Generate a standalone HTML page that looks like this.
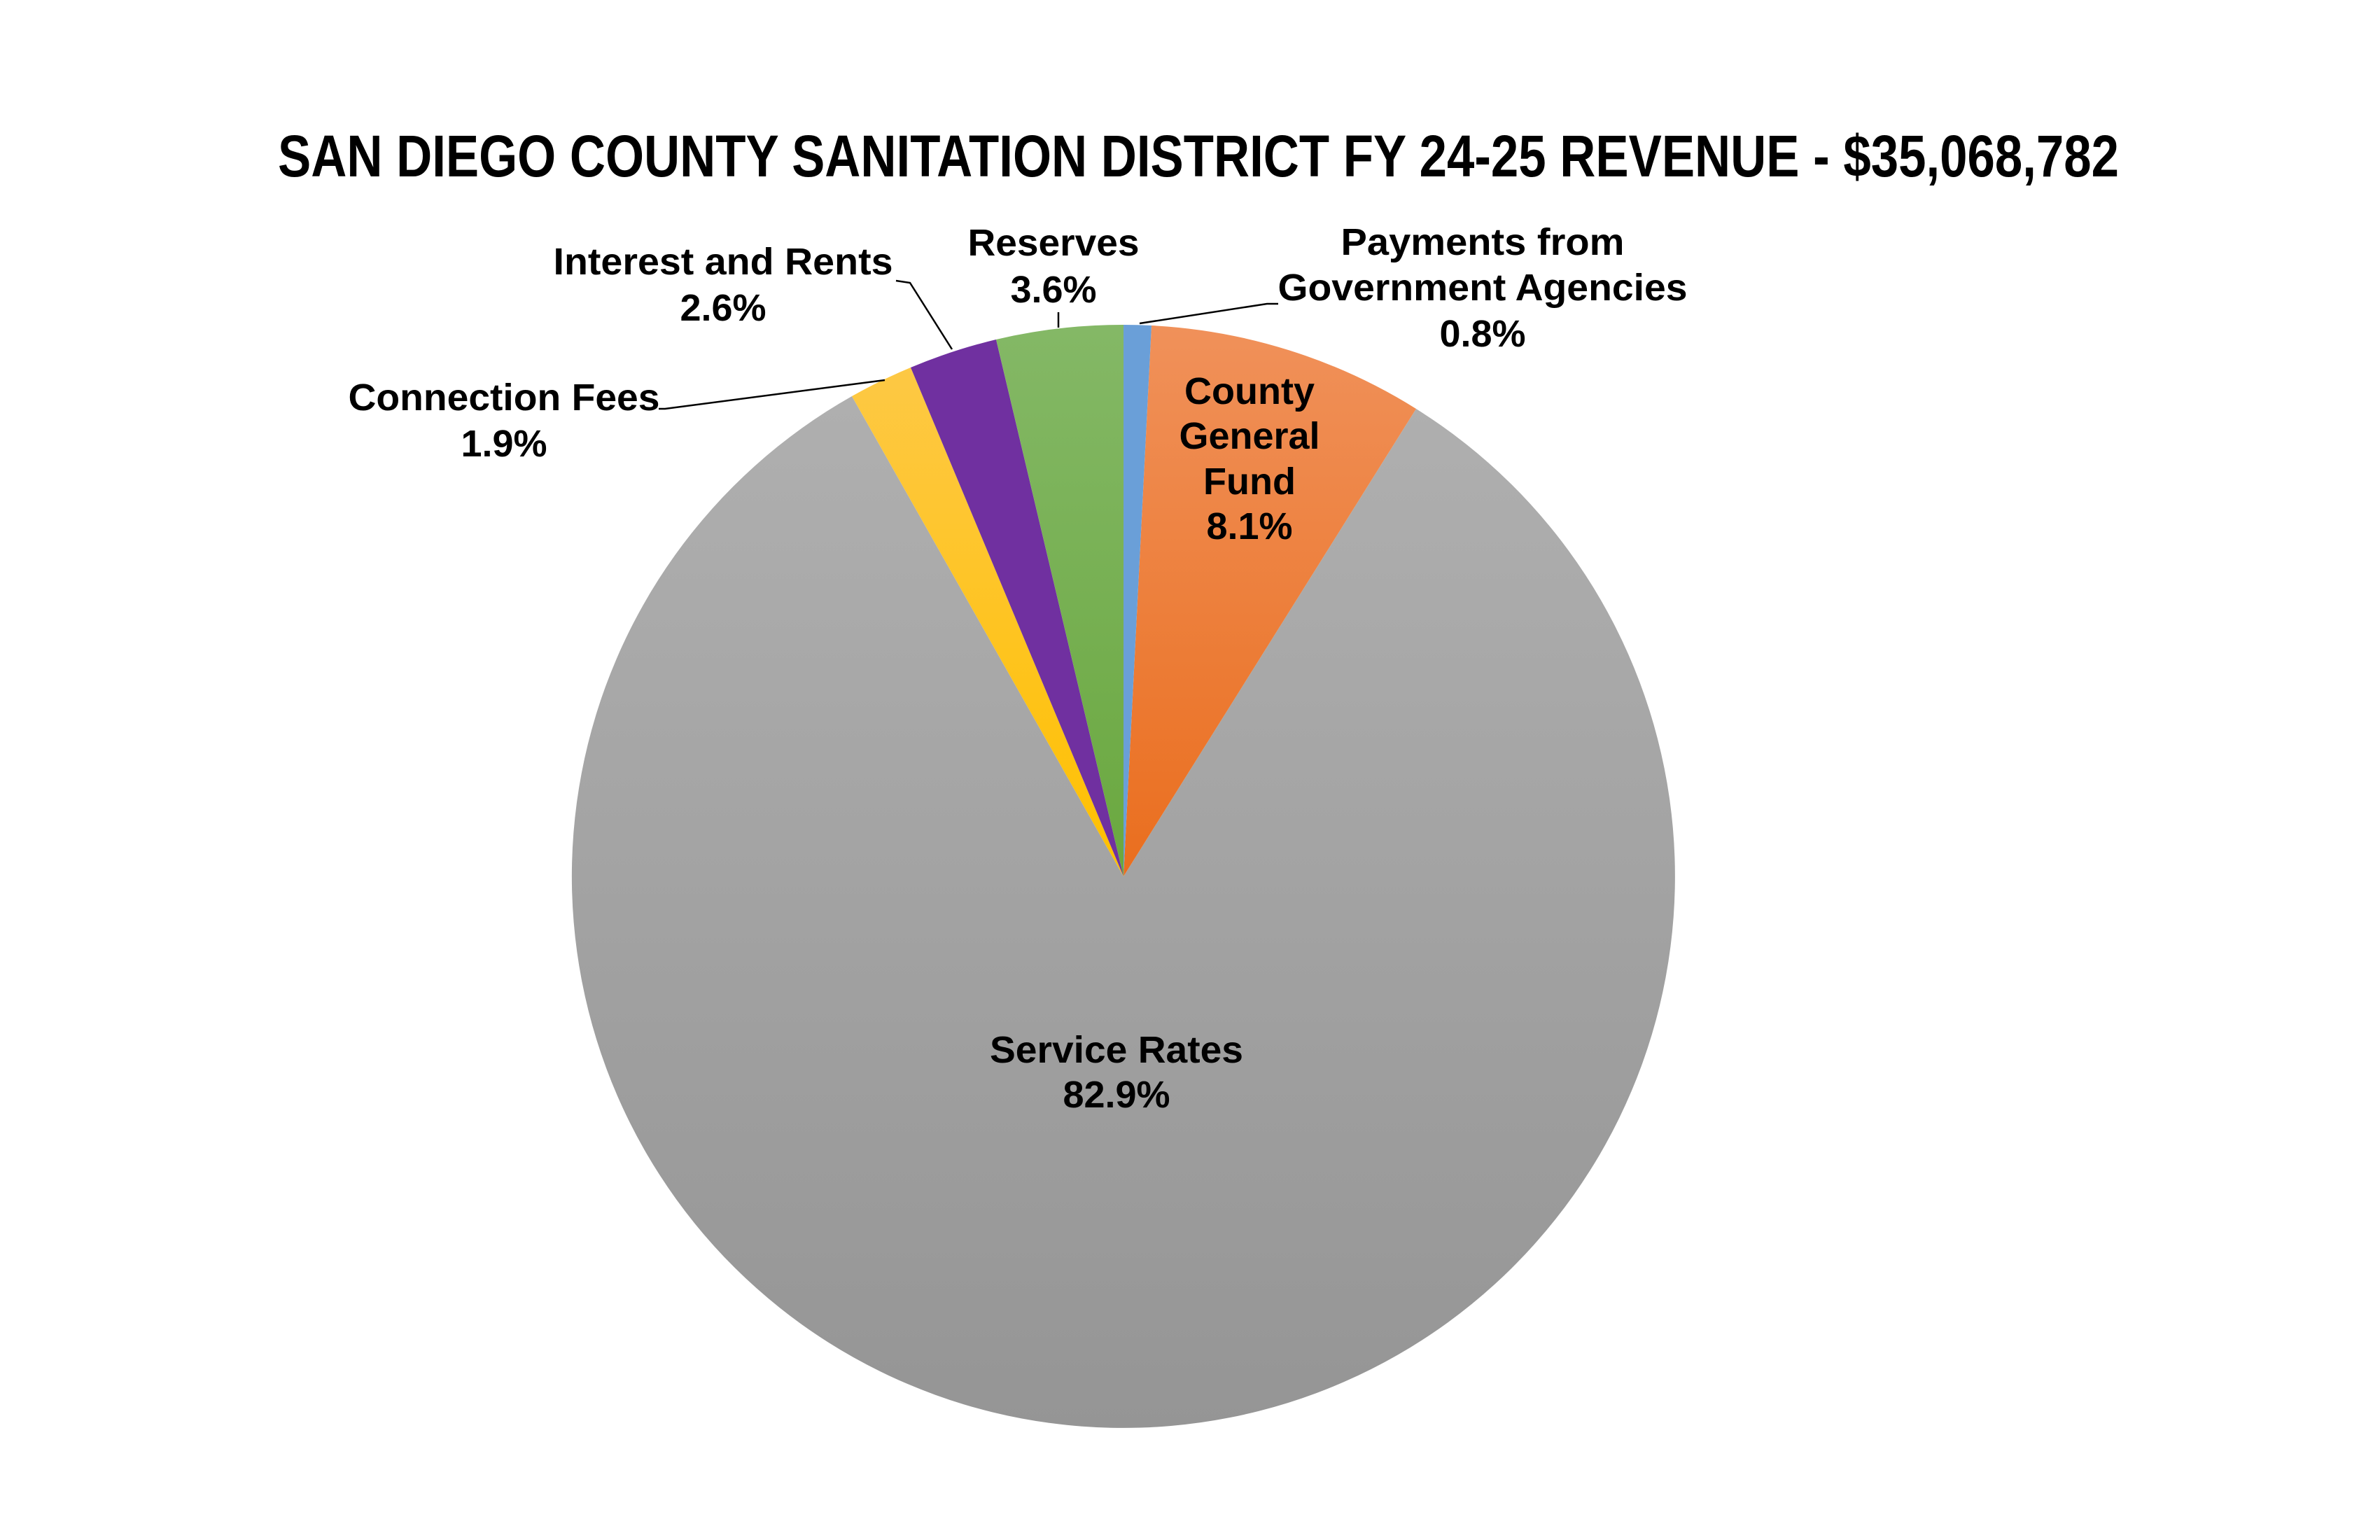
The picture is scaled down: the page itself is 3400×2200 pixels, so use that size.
<!DOCTYPE html>
<html><head><meta charset="utf-8"><style>
html,body{margin:0;padding:0;background:#fff;}
svg{display:block}
text{font-family:"Liberation Sans Narrow","Liberation Sans",Arial,sans-serif;font-weight:bold;fill:#000;}
</style></head><body>
<svg width="3400" height="2200" viewBox="0 0 3400 2200" xmlns="http://www.w3.org/2000/svg">
<defs>
<linearGradient id="gGray" gradientUnits="userSpaceOnUse" x1="0" y1="464" x2="0" y2="2040"><stop offset="0" stop-color="#b1b1b1"/><stop offset="1" stop-color="#959595"/></linearGradient>
<linearGradient id="gOr" gradientUnits="userSpaceOnUse" x1="0" y1="464" x2="0" y2="1252"><stop offset="0" stop-color="#f0915a"/><stop offset="1" stop-color="#ea6e1e"/></linearGradient>
<linearGradient id="gGr" gradientUnits="userSpaceOnUse" x1="0" y1="464" x2="0" y2="1252"><stop offset="0" stop-color="#84b866"/><stop offset="1" stop-color="#6aa83f"/></linearGradient>
<linearGradient id="gYe" gradientUnits="userSpaceOnUse" x1="0" y1="464" x2="0" y2="1252"><stop offset="0" stop-color="#fdc94a"/><stop offset="1" stop-color="#ffc000"/></linearGradient>
</defs>
<rect width="3400" height="2200" fill="#fff"/>
<text x="1712" y="252" font-size="84" text-anchor="middle" textLength="2630" lengthAdjust="spacingAndGlyphs">SAN DIEGO COUNTY SANITATION DISTRICT FY 24-25 REVENUE - $35,068,782</text>
<path d="M1605,1252 L2023,584 A788,788 0 1 1 1217,566 Z" fill="url(#gGray)"/>
<path d="M1605,1252 L1645,465 A788,788 0 0 1 2023,584 Z" fill="url(#gOr)"/>
<path d="M1605,1252 L1605,464 A788,788 0 0 1 1645,465 Z" fill="#6a9fd8"/>
<path d="M1605,1252 L1217,566 A788,788 0 0 1 1301,525 Z" fill="url(#gYe)"/>
<path d="M1605,1252 L1301,525 A788,788 0 0 1 1423,485 Z" fill="#7030a0"/>
<path d="M1605,1252 L1423,485 A788,788 0 0 1 1605,464 Z" fill="url(#gGr)"/>
<g stroke="#000" stroke-width="2.5" fill="none">
<polyline points="1628,462 1810,434 1826,434"/>
<polyline points="1512,468 1512,446"/>
<polyline points="1360,499 1300,404 1280,401"/>
<polyline points="1264,543 950,584 941,584"/>
</g>
<g font-size="54" text-anchor="middle">
<text x="2118" y="364" textLength="405" lengthAdjust="spacingAndGlyphs">Payments from</text>
<text x="2118" y="429" textLength="585" lengthAdjust="spacingAndGlyphs">Government Agencies</text>
<text x="2118" y="495">0.8%</text>
<text x="1505" y="365" textLength="245" lengthAdjust="spacingAndGlyphs">Reserves</text>
<text x="1505" y="432">3.6%</text>
<text x="1033" y="392" textLength="485" lengthAdjust="spacingAndGlyphs">Interest and Rents</text>
<text x="1033" y="458">2.6%</text>
<text x="720" y="586" textLength="445" lengthAdjust="spacingAndGlyphs">Connection Fees</text>
<text x="720" y="652">1.9%</text>
<text x="1785" y="577">County</text>
<text x="1785" y="641">General</text>
<text x="1785" y="706">Fund</text>
<text x="1785" y="770">8.1%</text>
<text x="1595" y="1518" textLength="362" lengthAdjust="spacingAndGlyphs">Service Rates</text>
<text x="1595" y="1582">82.9%</text>
</g>
</svg>
</body></html>
